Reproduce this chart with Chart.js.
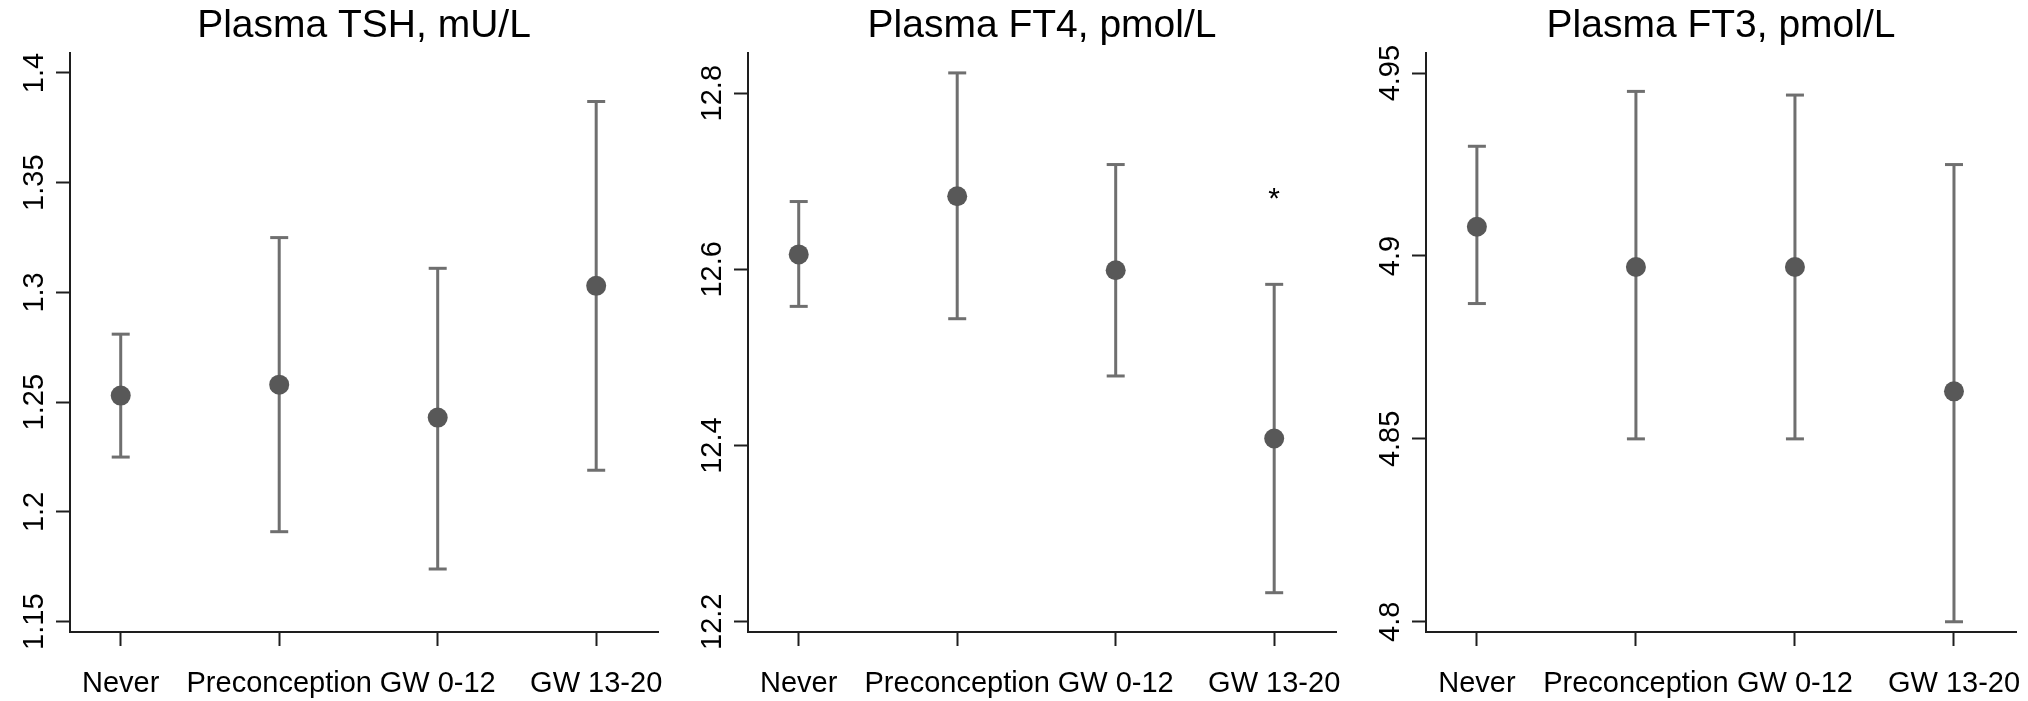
<!DOCTYPE html>
<html>
<head>
<meta charset="utf-8">
<script src="https://cdn.jsdelivr.net/npm/chart.js@4"></script>
<style>
  html, body { margin: 0; padding: 0; background: #fff; overflow: hidden; }
  .panel { position: absolute; top: 0; height: 701px; }
</style>
</head>
<body>
<div class="panel" style="left:0px;width:678px"><canvas id="tsh"></canvas></div>
<div class="panel" style="left:678px;width:678px"><canvas id="ft4"></canvas></div>
<div class="panel" style="left:1356px;width:672px"><canvas id="ft3"></canvas></div>
<script>
const categories = ["Never", "Preconception", "GW 0-12", "GW 13-20"];

const tshMean = [1.253, 1.258, 1.243, 1.303];
const tshLow = [1.225, 1.191, 1.174, 1.219];
const tshHigh = [1.281, 1.325, 1.311, 1.387];
const tshTicks = [1.15, 1.2, 1.25, 1.3, 1.35, 1.4];

const ft4Mean = [12.617, 12.683, 12.599, 12.408];
const ft4Low = [12.558, 12.544, 12.479, 12.233];
const ft4High = [12.677, 12.823, 12.719, 12.583];
const ft4Stars = [null, null, null, 12.689];
const ft4Ticks = [12.2, 12.4, 12.6, 12.8];

const ft3Mean = [4.908, 4.897, 4.897, 4.863];
const ft3Low = [4.887, 4.85, 4.85, 4.8];
const ft3High = [4.93, 4.945, 4.944, 4.925];
const ft3Ticks = [4.8, 4.85, 4.9, 4.95];

const FONT = '"Liberation Sans", Arial, sans-serif';
const AXIS = "#1e1e1e";
const BAR = "#6f6f6f";
const DOT = "#585858";

// rotated y labels and the significance star, placed through the chart's scales
const extras = {
  id: "extras",
  afterDraw(chart, args, opts) {
    const ctx = chart.ctx;
    const y = chart.scales.y;
    const x = chart.scales.x;
    ctx.save();
    ctx.fillStyle = "#000";
    ctx.font = "29px " + FONT;
    ctx.textAlign = "center";
    ctx.textBaseline = "alphabetic";
    opts.ticks.forEach((v) => {
      ctx.save();
      ctx.translate(chart.chartArea.left - 27, y.getPixelForValue(v));
      ctx.rotate(-Math.PI / 2);
      ctx.fillText(String(v), 0, 0);
      ctx.restore();
    });
    ctx.font = "30px " + FONT;
    (opts.stars || []).forEach((v, i) => {
      if (v === null) return;
      ctx.fillText("*", x.getPixelForValue(i + 1), y.getPixelForValue(v) + 0.57 * 30);
    });
    ctx.restore();
  },
};

function makePanel(id, title, yMin, yMax, ticks, mean, low, high, stars, padRight) {
  const pts = (vals) => vals.map((v, i) => ({ x: i + 1, y: v }));
  const whiskers = low.flatMap((l, i) => [
    { x: i + 1, y: l },
    { x: i + 1, y: high[i] },
    { x: i + 1, y: null },
  ]);
  const config = {
    type: "scatter",
    data: {
      datasets: [
        {
          data: pts(mean),
          pointRadius: 10,
          pointBackgroundColor: DOT,
          pointBorderWidth: 0,
          order: 0,
        },
        {
          data: pts(low).concat(pts(high)),
          pointStyle: "line",
          pointRadius: 9,
          pointBorderColor: BAR,
          pointBorderWidth: 3,
          order: 1,
        },
        {
          type: "line",
          data: whiskers,
          borderColor: BAR,
          borderWidth: 3,
          pointRadius: 0,
          spanGaps: false,
          order: 2,
        },
      ],
    },
    options: {
      responsive: false,
      animation: false,
      events: [],
      layout: { padding: { left: 0, top: 0, right: padRight, bottom: 0 } },
      scales: {
        x: {
          type: "linear",
          min: 0.68,
          max: 4.39,
          afterBuildTicks: (s) => {
            s.ticks = categories.map((c, i) => ({ value: i + 1 }));
          },
          afterFit: (s) => {
            s.height = 69;
            s.paddingLeft = 0;
            s.paddingRight = 0;
          },
          ticks: {
            color: "#000",
            font: { family: FONT, size: 29 },
            padding: 21,
            maxRotation: 0,
            autoSkip: false,
            callback: (v) => categories[v - 1],
          },
          grid: {
            drawOnChartArea: false,
            drawTicks: true,
            tickLength: 14,
            tickWidth: 2,
            tickColor: AXIS,
          },
          border: { display: true, color: AXIS, width: 2 },
        },
        y: {
          type: "linear",
          min: yMin,
          max: yMax,
          afterBuildTicks: (s) => {
            s.ticks = ticks.map((v) => ({ value: v }));
          },
          afterFit: (s) => {
            s.width = 70;
            s.paddingTop = 0;
            s.paddingBottom = 0;
          },
          ticks: { display: false },
          grid: {
            drawOnChartArea: false,
            drawTicks: true,
            tickLength: 14,
            tickWidth: 2,
            tickColor: AXIS,
          },
          border: { display: true, color: AXIS, width: 2 },
        },
      },
      plugins: {
        legend: { display: false },
        tooltip: { enabled: false },
        title: {
          display: true,
          text: title,
          fullSize: false,
          color: "#000",
          font: { family: FONT, size: 39, weight: "normal" },
          padding: { top: 3, bottom: 3.2 },
        },
        extras: { ticks: ticks, stars: stars },
      },
    },
    plugins: [extras],
  };
  const canvas = document.getElementById(id);
  canvas.width = canvas.parentElement.clientWidth;
  canvas.height = 701;
  return new Chart(canvas, config);
}

makePanel("tsh", "Plasma TSH, mU/L", 1.1453, 1.4091, tshTicks, tshMean, tshLow, tshHigh, null, 20);
makePanel("ft4", "Plasma FT4, pmol/L", 12.1884, 12.8456, ft4Ticks, ft4Mean, ft4Low, ft4High, ft4Stars, 20);
makePanel("ft3", "Plasma FT3, pmol/L", 4.7972, 4.9555, ft3Ticks, ft3Mean, ft3Low, ft3High, null, 4);
</script>
</body>
</html>
